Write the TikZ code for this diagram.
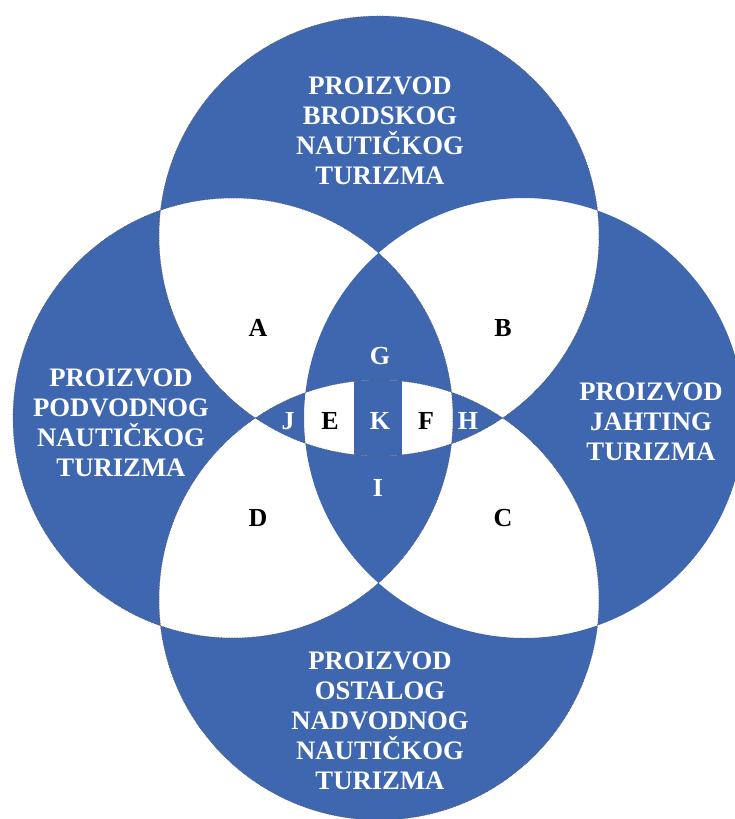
\documentclass[tikz,border=0pt]{standalone}
\usepackage{fontspec}
\setmainfont{Liberation Serif}
\definecolor{venn}{RGB}{62,103,176}
\begin{document}
\begin{tikzpicture}[x=1pt,y=-1pt,
  title/.style={text=white,align=center,font=\fontsize{26.7}{30}\selectfont\bfseries},
  tag/.style={font=\fontsize{26}{28}\selectfont\bfseries},
  dark/.style={tag,text=black},
  light/.style={tag,text=white},
  rim/.style={densely dotted,line width=0.6pt,draw=black!65}]
\useasboundingbox (0,0) rectangle (735,819);
\clip (0,0) rectangle (735,819);
% circle centres
\coordinate (ct) at (379,236);
\coordinate (cb) at (379,600);
\coordinate (cl) at (233,418);
\coordinate (cr) at (524,418);
\def\rad{220}
% regions covered an odd number of times are filled
\fill[venn,even odd rule] (ct) circle[radius=\rad] (cb) circle[radius=\rad]
  (cl) circle[radius=\rad] (cr) circle[radius=\rad];
% central strip of the four-fold overlap
\begin{scope}
  \clip (ct) circle[radius=\rad];
  \clip (cb) circle[radius=\rad];
  \fill[venn] (354,370) rectangle (402,470);
\end{scope}
% dotted rims
\draw[rim] (ct) circle[radius=\rad];
\draw[rim] (cb) circle[radius=\rad];
\draw[rim] (cl) circle[radius=\rad];
% product labels
\node[title] (top) at (380,131) {PROIZVOD\\BRODSKOG\\NAUTIČKOG\\TURIZMA};
\node[title] (left) at (121,423) {PROIZVOD\\PODVODNOG\\NAUTIČKOG\\TURIZMA};
\node[title] (right) at (651,422) {PROIZVOD\\JAHTING\\TURIZMA};
\node[title] (bottom) at (380,721) {PROIZVOD\\OSTALOG\\NADVODNOG\\NAUTIČKOG\\TURIZMA};
% overlap labels
\node[dark] (A) at (258,328) {A};
\node[dark] (B) at (503,328) {B};
\node[dark] (C) at (503,518) {C};
\node[dark] (D) at (258,518) {D};
\node[dark] (E) at (330,421) {E};
\node[dark] (F) at (426,421) {F};
\node[light] (G) at (380,356) {G};
\node[light] (H) at (468,421) {H};
\node[light] (I) at (378,488) {I};
\node[light] (J) at (288,421) {J};
\node[light] (K) at (380,421) {K};
\end{tikzpicture}
\end{document}
